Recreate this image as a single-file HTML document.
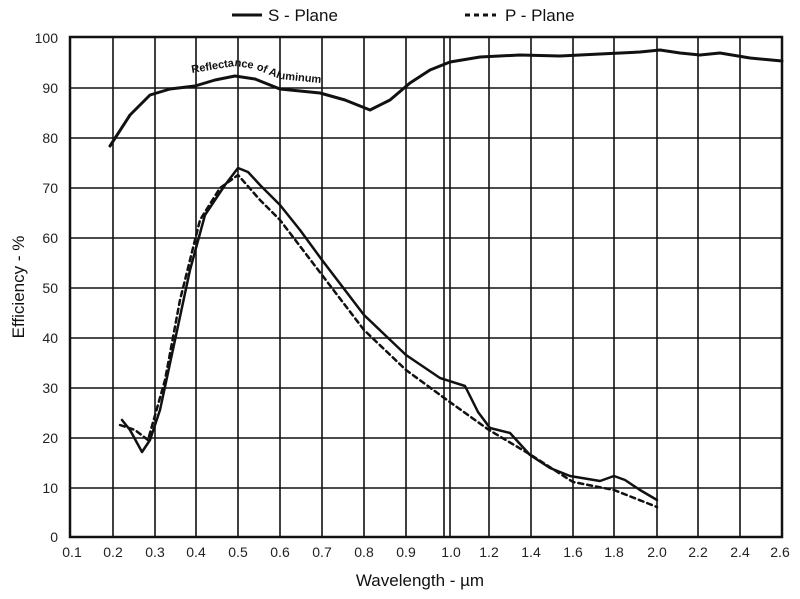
<!DOCTYPE html>
<html><head><style>body{margin:0;background:#fff}svg{display:block}</style></head>
<body>
<svg width="800" height="599" xmlns="http://www.w3.org/2000/svg" font-family="Liberation Sans, sans-serif">
<rect width="800" height="599" fill="#fff"/>
<g stroke="#111" stroke-width="1.6" fill="none">
<path d="M113 37V537M155 37V537M196 37V537M238 37V537M280 37V537M322 37V537M364 37V537M406 37V537M444 37V537M450 37V537M489 37V537M531 37V537M573 37V537M614 37V537M657 37V537M698 37V537M740 37V537"/>
<path d="M70 488H782M70 438H782M70 388H782M70 338H782M70 288H782M70 238H782M70 188H782M70 138H782M70 88H782"/>
<rect x="70" y="37" width="712" height="500" stroke-width="2.5"/>
</g>
<g font-size="14" fill="#222" text-anchor="end">
<text x="58" y="542">0</text><text x="58" y="493">10</text><text x="58" y="443">20</text><text x="58" y="393">30</text><text x="58" y="343">40</text><text x="58" y="293">50</text><text x="58" y="243">60</text><text x="58" y="193">70</text><text x="58" y="143">80</text><text x="58" y="93">90</text><text x="58" y="43">100</text>
</g>
<g font-size="14" fill="#222" text-anchor="middle">
<text x="72" y="557">0.1</text><text x="113" y="557">0.2</text><text x="155" y="557">0.3</text><text x="196" y="557">0.4</text><text x="238" y="557">0.5</text><text x="280" y="557">0.6</text><text x="322" y="557">0.7</text><text x="364" y="557">0.8</text><text x="406" y="557">0.9</text><text x="451" y="557">1.0</text><text x="489" y="557">1.2</text><text x="531" y="557">1.4</text><text x="573" y="557">1.6</text><text x="614" y="557">1.8</text><text x="657" y="557">2.0</text><text x="698" y="557">2.2</text><text x="740" y="557">2.4</text><text x="780" y="557">2.6</text>
</g>
<text x="420" y="586" font-size="17" text-anchor="middle" fill="#111">Wavelength - µm</text>
<text transform="translate(24,287) rotate(-90)" font-size="17" text-anchor="middle" fill="#111">Efficiency - %</text>
<line x1="232" y1="15" x2="262" y2="15" stroke="#111" stroke-width="3"/>
<text x="268" y="21" font-size="17" fill="#111">S - Plane</text>
<line x1="465" y1="15" x2="496" y2="15" stroke="#111" stroke-width="3" stroke-dasharray="5,4"/>
<text x="505" y="21" font-size="17" fill="#111">P - Plane</text>
<g fill="none" stroke="#111" stroke-linejoin="round" stroke-linecap="round">
<path stroke-width="3" d="M110 146 L130 115 L150 95 L170 89 L195 86 L215 80 L235 76 L255 79 L280 89 L320 93 L345 100 L370 110 L390 100 L410 83 L430 70 L450 62 L480 57 L520 55 L560 56 L600 54 L640 52 L660 50 L680 53 L700 55 L720 53 L750 58 L782 61"/>
<path stroke-width="2.5" d="M122 420 L130 430 L142 452 L150 440 L160 410 L175 340 L190 270 L205 215 L225 185 L238 168 L248 172 L260 185 L280 205 L300 230 L322 260 L364 315 L406 355 L440 378 L465 386 L478 412 L490 428 L510 433 L530 455 L550 468 L570 476 L600 481 L614 476 L625 480 L640 490 L657 500"/>
<path stroke-width="2.5" stroke-dasharray="5,4" d="M120 425 L135 430 L148 440 L165 380 L180 300 L200 220 L220 188 L238 175 L260 200 L280 220 L322 275 L364 330 L406 370 L447 400 L489 430 L531 455 L573 482 L614 490 L657 507"/>
</g>
<path id="lp" d="M192 73 L235 66 L255 69 L280 79 L320 83 L345 90 L372 100" fill="none"/>
<text font-size="11" fill="#111" font-weight="bold"><textPath href="#lp">Reflectance of Aluminum</textPath></text>
</svg>
</body></html>
